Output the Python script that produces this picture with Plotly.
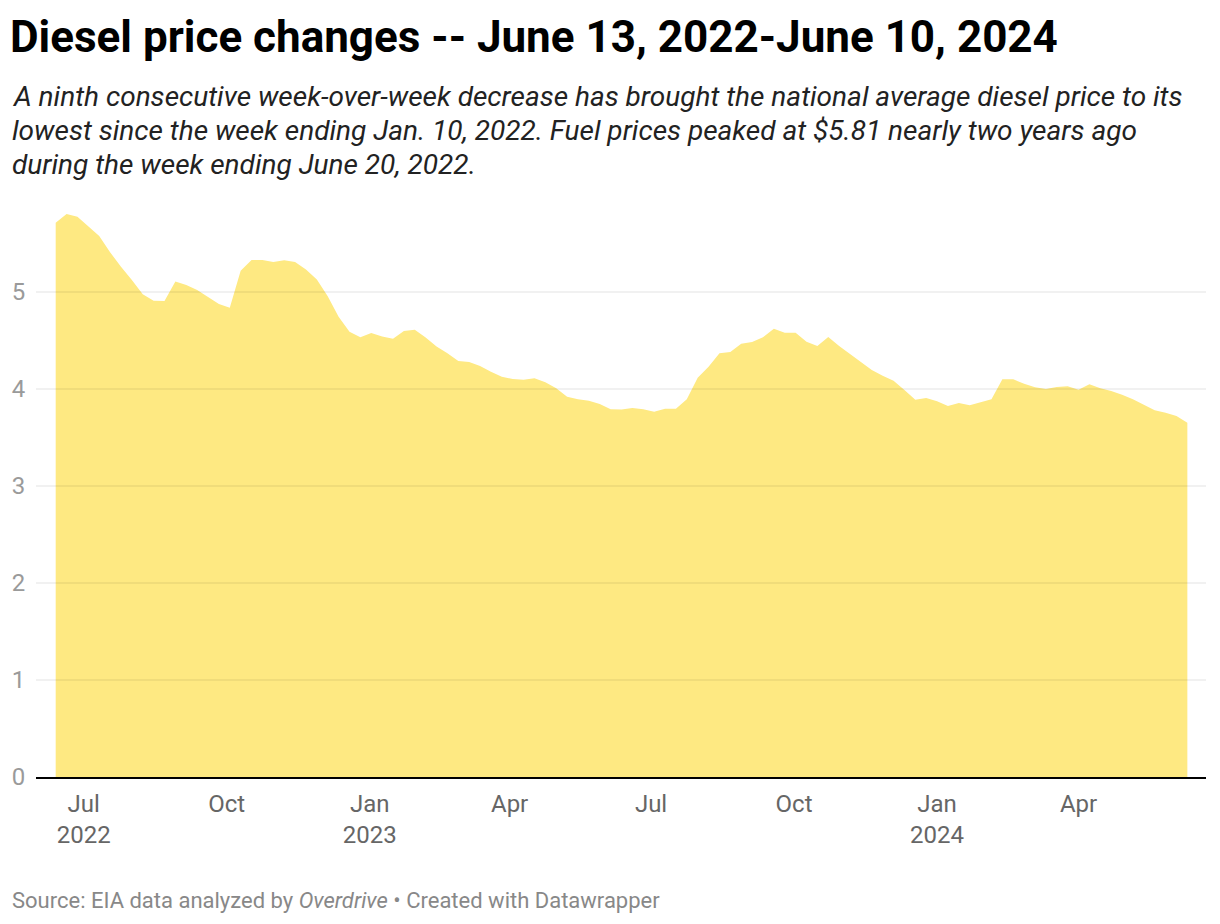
import plotly.graph_objects as go
import pandas as pd

# Weekly U.S. average diesel price ($/gal), week ending June 13, 2022 .. June 10, 2024
start_date = "2022-06-13"
prices = [
    5.714, 5.804, 5.776, 5.673, 5.577, 5.41, 5.26, 5.124, 4.976, 4.911,
    4.907, 5.107, 5.072, 5.02, 4.95, 4.876, 4.838, 5.22, 5.33, 5.33,
    5.31, 5.327, 5.31, 5.233, 5.13, 4.955, 4.746, 4.591, 4.533, 4.577,
    4.54, 4.519, 4.598, 4.612, 4.53, 4.437, 4.368, 4.289, 4.278, 4.237,
    4.179, 4.127, 4.103, 4.096, 4.11, 4.069, 4.007, 3.921, 3.894, 3.88,
    3.845, 3.79, 3.789, 3.804, 3.79, 3.766, 3.797, 3.797, 3.894, 4.117,
    4.23, 4.368, 4.381, 4.467, 4.485, 4.533, 4.622, 4.581, 4.581, 4.488,
    4.443, 4.536, 4.443, 4.36, 4.282, 4.196, 4.137, 4.086, 3.99, 3.89,
    3.907, 3.873, 3.825, 3.856, 3.832, 3.863, 3.894, 4.1, 4.1, 4.055,
    4.017, 4.0, 4.02, 4.028, 3.993, 4.048, 4.007, 3.979, 3.942, 3.894,
    3.838, 3.78, 3.756, 3.722, 3.653,
]
dates = pd.date_range(start_date, periods=len(prices), freq="7D")

x_tick_vals = ["2022-07-01", "2022-10-01", "2023-01-01", "2023-04-01",
               "2023-07-01", "2023-10-01", "2024-01-01", "2024-04-01"]
x_tick_text = ["Jul<br>2022", "Oct", "Jan<br>2023", "Apr",
               "Jul", "Oct", "Jan<br>2024", "Apr"]
y_tick_vals = [0, 1, 2, 3, 4, 5]

title = "Diesel price changes -- June 13, 2022-June 10, 2024"
subtitle_lines = [
    "A ninth consecutive week-over-week decrease has brought the national average diesel price to its",
    "lowest since the week ending Jan. 10, 2022. Fuel prices peaked at $5.81 nearly two years ago",
    "during the week ending June 20, 2022.",
]
footer = "Source: EIA data analyzed by <i>Overdrive</i> • Created with Datawrapper"

FONT = "Roboto, 'Open Sans', sans-serif"

# page has an 8px body margin: figure coords = page coords - 8
OFF = 8
W, H = 1204, 908
ml, mr, mt, mb = 36 - OFF, W - (1206 - OFF), 195 - OFF, H - (777 - OFF)
pw, ph = W - ml - mr, H - mt - mb


def px_x(page_x):
    return (page_x - OFF - ml) / pw


def px_y(page_y):
    return (H - mb - (page_y - OFF)) / ph


fig = go.Figure()
fig.add_trace(go.Scatter(
    x=dates, y=prices, mode="lines", fill="tozeroy",
    fillcolor="#fee982", line=dict(width=0, color="#fee982"),
    hoverinfo="x+y", showlegend=False,
))

shapes = []
for v in y_tick_vals[1:]:
    shapes.append(dict(type="line", xref="paper", yref="y", x0=0, x1=1, y0=v, y1=v,
                       line=dict(color="rgba(0,0,0,0.11)", width=1), layer="above"))

annotations = []
for i, line in enumerate(subtitle_lines):
    annotations.append(dict(
        text=f"<i>{line}</i>", xref="paper", yref="paper",
        x=px_x(10), y=px_y(97 + 34 * i),
        xanchor="left", yanchor="middle", showarrow=False,
        font=dict(family=FONT, size=28, color="#222"), align="left"))
annotations.append(dict(
    text=footer, xref="paper", yref="paper",
    x=px_x(10), y=px_y(900),
    xanchor="left", yanchor="middle", showarrow=False,
    font=dict(family=FONT, size=22, color="#888"), align="left"))

fig.update_layout(
    width=W, height=H,
    margin=dict(l=ml, r=mr, t=mt, b=mb, autoexpand=False),
    paper_bgcolor="white", plot_bgcolor="white",
    title=dict(text=f"<b>{title}</b>", x=(10 - OFF) / W, xanchor="left", xref="container",
               y=1 - (37 - OFF) / H, yanchor="middle", yref="container",
               font=dict(family=FONT, size=44, color="#000")),
    font=dict(family=FONT),
    xaxis=dict(
        type="date", range=["2022-05-31 08:00", "2024-06-22"],
        tickvals=x_tick_vals, ticktext=x_tick_text, automargin=False,
        showgrid=False, zeroline=False,
        showline=True, linecolor="#000", linewidth=2, layer="above traces",
        ticks="outside", ticklen=4, tickcolor="rgba(0,0,0,0)",
        tickfont=dict(family=FONT, size=24, color="#666"),
    ),
    yaxis=dict(
        range=[0, 6], tickvals=y_tick_vals, ticktext=[str(v) for v in y_tick_vals],
        automargin=False,
        showgrid=False, zeroline=False, showline=False,
        ticks="outside", ticklen=5, tickcolor="rgba(0,0,0,0)",
        tickfont=dict(family=FONT, size=24, color="#9a9a9a"),
    ),
    shapes=shapes,
    annotations=annotations,
    hovermode="x",
)

fig.write_html("out.html")
